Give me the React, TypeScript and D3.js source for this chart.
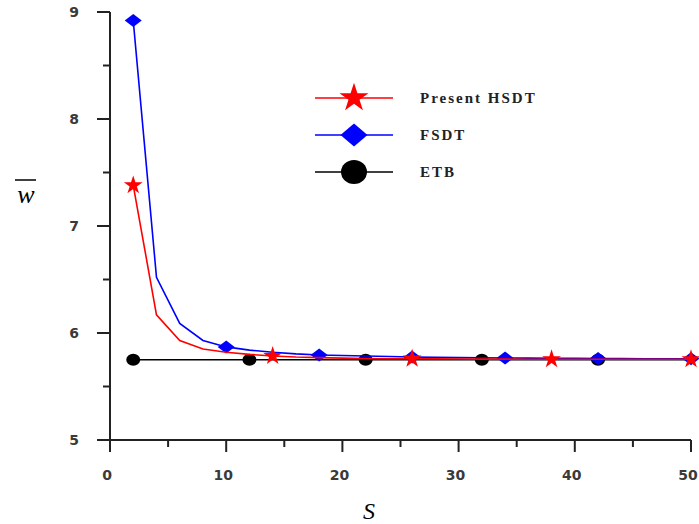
import React, { useEffect, useRef } from 'react';
import * as d3 from 'd3';

// S values (x axis)
const sValues = [2, 4, 6, 8, 10, 12, 14, 16, 18, 20, 22, 24, 26, 28, 30, 32, 34, 36, 38, 40, 42, 44, 46, 48, 50];
const hsdt = [7.38, 6.17, 5.93, 5.85, 5.82, 5.8, 5.785, 5.775, 5.77, 5.765, 5.762, 5.76, 5.76, 5.758, 5.757, 5.756, 5.756, 5.755, 5.755, 5.755, 5.755, 5.755, 5.755, 5.755, 5.755];
const fsdt = [8.92, 6.52, 6.09, 5.93, 5.87, 5.84, 5.82, 5.805, 5.795, 5.79, 5.785, 5.78, 5.775, 5.772, 5.77, 5.768, 5.766, 5.765, 5.764, 5.763, 5.762, 5.761, 5.76, 5.76, 5.76];
const etb = [5.75, 5.75, 5.75, 5.75, 5.75, 5.75, 5.75, 5.75, 5.75, 5.75, 5.75, 5.75, 5.75, 5.75, 5.75, 5.75, 5.75, 5.75, 5.75, 5.75, 5.75, 5.75, 5.75, 5.75, 5.75];

const seriesNames = ['Present HSDT', 'FSDT', 'ETB'];
const seriesColors = ['#ff0000', '#0000ff', '#000000'];
const markerEvery = [6, 4, 5];
const xTicks = [0, 10, 20, 30, 40, 50];
const yTicks = [5, 6, 7, 8, 9];

const App = () => {
  const svgRef = useRef<SVGSVGElement>(null);

  useEffect(() => {
    const svg = d3.select(svgRef.current);
    svg.selectAll('*').remove();

    const x = d3.scaleLinear().domain([0, 50]).range([110, 691]);
    const y = d3.scaleLinear().domain([5, 9]).range([440, 12]);
    const tickFont = 'Verdana, "DejaVu Sans", sans-serif';

    const g = svg.append('g');

    // y axis
    g.append('line').attr('x1', x(0)).attr('x2', x(0)).attr('y1', y(9)).attr('y2', y(5) + 12)
      .attr('stroke', '#222').attr('stroke-width', 2);
    d3.range(5, 9.01, 0.5).forEach(v => {
      const major = Number.isInteger(v);
      g.append('line').attr('x1', x(0) - (major ? 13 : 7)).attr('x2', x(0))
        .attr('y1', y(v)).attr('y2', y(v)).attr('stroke', '#222').attr('stroke-width', 2);
    });
    yTicks.forEach(v => {
      g.append('text').attr('x', 74).attr('y', y(v) + 5).attr('text-anchor', 'middle')
        .attr('font-family', tickFont).attr('font-size', 14).attr('font-weight', 'bold')
        .attr('fill', '#3a3a3a').text(v);
    });

    // x axis
    g.append('line').attr('x1', x(0) - 13).attr('x2', x(50)).attr('y1', y(5)).attr('y2', y(5))
      .attr('stroke', '#222').attr('stroke-width', 2);
    d3.range(0, 50.01, 5).forEach(v => {
      const major = v % 10 === 0;
      g.append('line').attr('x1', x(v)).attr('x2', x(v)).attr('y1', y(5))
        .attr('y2', y(5) + (major ? 12 : 7)).attr('stroke', '#222').attr('stroke-width', 2);
    });
    xTicks.forEach(v => {
      g.append('text').attr('x', x(v) - 3).attr('y', y(5) + 40).attr('text-anchor', 'middle')
        .attr('font-family', tickFont).attr('font-size', 14).attr('font-weight', 'bold')
        .attr('fill', '#3a3a3a').text(v);
    });

    // axis titles
    g.append('text').attr('x', 369).attr('y', 519).attr('text-anchor', 'middle')
      .attr('font-family', '"Liberation Serif", serif').attr('font-style', 'italic')
      .attr('font-size', 24).text('S');
    g.append('line').attr('x1', 15).attr('x2', 36).attr('y1', 180).attr('y2', 180)
      .attr('stroke', '#000').attr('stroke-width', 1.5);
    g.append('text').attr('x', 26).attr('y', 203).attr('text-anchor', 'middle')
      .attr('font-family', '"Liberation Serif", serif').attr('font-style', 'italic')
      .attr('font-size', 26).text('w');

    const line = d3.line<number>().x((d, i) => x(sValues[i])).y(d => y(d));

    const diamond = (w: number, h: number) =>
      `M0,${-h / 2}L${w / 2},0L0,${h / 2}L${-w / 2},0Z`;
    const marker = (sel: any, k: number, big: boolean) => {
      if (k === 0) {
        sel.append('path').attr('d', d3.symbol(d3.symbolStar, big ? 260 : 110)())
          .attr('fill', seriesColors[k]);
      } else if (k === 1) {
        sel.append('path').attr('d', big ? diamond(27, 23) : diamond(17, 13))
          .attr('fill', seriesColors[k]);
      } else {
        sel.append('ellipse').attr('rx', big ? 13 : 7).attr('ry', big ? 12 : 6)
          .attr('fill', seriesColors[k]);
      }
    };

    const allSeries = [hsdt, fsdt, etb];
    // draw ETB first, then FSDT, then HSDT on top
    [2, 1, 0].forEach(k => {
      const data = allSeries[k];
      g.append('path').datum(data).attr('d', line).attr('fill', 'none')
        .attr('stroke', seriesColors[k]).attr('stroke-width', 1.6);
      data.forEach((v, i) => {
        if (i % markerEvery[k] !== 0) return;
        const m = g.append('g').attr('transform', `translate(${x(sValues[i])},${y(v)})`);
        marker(m, k, false);
      });
    });

    // legend
    seriesNames.forEach((name, k) => {
      const ly = 98 + k * 37;
      g.append('line').attr('x1', 315).attr('x2', 393).attr('y1', ly).attr('y2', ly)
        .attr('stroke', seriesColors[k]).attr('stroke-width', 1.6);
      const m = g.append('g').attr('transform', `translate(354,${ly})`);
      marker(m, k, true);
      g.append('text').attr('x', 420).attr('y', ly + 5)
        .attr('font-family', '"Liberation Serif", serif').attr('font-size', 15)
        .attr('font-weight', 'bold').attr('letter-spacing', 2).attr('fill', '#222').text(name);
    });
  }, []);

  return (
    <svg ref={svgRef} width={699} height={524}
      style={{ position: 'absolute', left: 0, top: 0, background: '#fff' }} />
  );
};

export default App;
